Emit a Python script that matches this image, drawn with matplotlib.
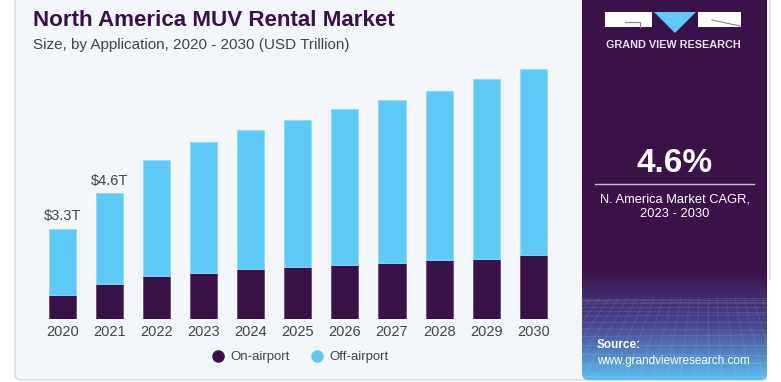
import numpy as np
import matplotlib
matplotlib.use("Agg")
import matplotlib.pyplot as plt
from matplotlib.patches import FancyBboxPatch, Rectangle, Polygon
from matplotlib.lines import Line2D

plt.rcParams['font.family'] = ['Liberation Sans', 'DejaVu Sans']

years = ["2020", "2021", "2022", "2023", "2024", "2025", "2026", "2027", "2028", "2029", "2030"]
on_airport = [0.89, 1.28, 1.59, 1.70, 1.82, 1.92, 1.99, 2.05, 2.15, 2.21, 2.33]
off_airport = [2.41, 3.32, 4.23, 4.80, 5.11, 5.37, 5.70, 5.97, 6.21, 6.57, 6.83]
bar_labels = {"2020": "$3.3T", "2021": "$4.6T"}
series_names = ["On-airport", "Off-airport"]

DARK = "#371147"
BLUE = "#5ecbf6"
BG = "#f3f7fb"
PANEL = "#3a1249"
TXT = "#444444"

W, H = 781, 382
fig = plt.figure(figsize=(W / 100, H / 100), dpi=100)
fig.patch.set_facecolor("white")

# Decoration axes in pixel coords
deco = fig.add_axes([0, 0, 1, 1])
deco.set_xlim(0, W)
deco.set_ylim(H, 0)
deco.axis("off")

card = FancyBboxPatch((15, -20), 755, 400, boxstyle="round,pad=0,rounding_size=6",
                      fc=BG, ec="#d5d9de", lw=1.0)
deco.add_patch(card)

# Right panel with gradient at bottom
px0, px1 = 582, 767
grad_h = 110
n = 256
top = np.array([0x3a, 0x12, 0x49]) / 255
mid = np.array([0x48, 0x45, 0x90]) / 255
bot = np.array([0x5a, 0xc0, 0xf0]) / 255
t = np.linspace(0, 1, n)[:, None]
cols = np.where(t < 0.5, top + (mid - top) * (t / 0.5), mid + (bot - mid) * ((t - 0.5) / 0.5))
img = np.repeat(cols[:, None, :], 2, axis=1)
deco.add_patch(Rectangle((px0, -5), px1 - px0, 380 - grad_h + 5, fc=PANEL, ec="none"))
im = deco.imshow(img, extent=[px0, px1, 380, 380 - grad_h], aspect="auto", zorder=1)
clip = FancyBboxPatch((px0, -20), px1 - px0, 400, boxstyle="round,pad=0,rounding_size=6",
                      fc="none", ec="none", transform=deco.transData)
deco.add_patch(clip)
im.set_clip_path(clip)

# faint mesh lines on the gradient
for k in range(0, 14):
    y = 300 + k * k * 0.45
    deco.add_line(Line2D([px0, px1], [y, y + (k % 3 - 1) * 1.5], color="white", alpha=0.13, lw=0.6, zorder=2))
for k in range(-12, 24):
    x_top = px0 + k * 9
    x_bot = px0 + (k - 5) * 14
    deco.add_line(Line2D([x_top, x_bot], [298, 380], color="white", alpha=0.10, lw=0.6, zorder=2))
deco.add_patch(Rectangle((px1, 280), 20, 110, fc="white", ec="none", zorder=3))
deco.add_patch(Rectangle((px0 - 20, 381), 220, 10, fc="white", ec="none", zorder=3))

# Logo
deco.add_patch(Rectangle((605, 12), 47, 15, fc="white", ec="none", zorder=4))
deco.add_patch(Polygon([(654, 12), (696, 12), (675, 33)], closed=True, fc=BLUE, ec="none", zorder=4))
deco.add_patch(Rectangle((698, 12), 43, 15, fc="white", ec="none", zorder=4))
deco.add_line(Line2D([625, 640, 640], [22, 22, 27], color="#8a7fa0", lw=0.8, zorder=5))
deco.add_line(Line2D([712, 740], [20, 26], color="#8a7fa0", lw=0.8, zorder=5))
deco.text(673, 45, "GRAND VIEW RESEARCH", color="#e6e2ea", fontsize=7.8, fontweight="bold",
          ha="center", va="center", zorder=5)

# CAGR
deco.text(675, 164, "4.6%", color="white", fontsize=24, fontweight="bold", ha="center", va="center", zorder=5)
deco.add_line(Line2D([595, 754], [184, 184], color="#c8bcd2", lw=1.0, zorder=5))
deco.text(675, 199, "N. America Market CAGR,", color="white", fontsize=9.3, ha="center", va="center", zorder=5)
deco.text(675, 214, "2023 - 2030", color="white", fontsize=9.3, ha="center", va="center", zorder=5)

deco.text(597, 345, "Source:", color="white", fontsize=8.5, fontweight="bold", ha="left", va="center", zorder=5)
deco.text(597, 361, "www.grandviewresearch.com", color="white", fontsize=8.5, ha="left", va="center", zorder=5)

# Titles
deco.text(33, 20, "North America MUV Rental Market", color="#3a0f4a", fontsize=16.1,
          fontweight="bold", ha="left", va="center")
deco.text(33, 45, "Size, by Application, 2020 - 2030 (USD Trillion)", color="#444444",
          fontsize=11, ha="left", va="center")

# Chart axes
ax_left, ax_right = 38.6, 556.9
ax_bottom, ax_top = 319.0, 60.0
ax = fig.add_axes([ax_left / W, 1 - ax_bottom / H, (ax_right - ax_left) / W, (ax_bottom - ax_top) / H])
ax.patch.set_alpha(0)
x = np.arange(len(years))
ymax = (ax_bottom - ax_top) / 27.3
ax.bar(x, on_airport, width=0.575, color=DARK, edgecolor="#6a4a7a", linewidth=0.6, label=series_names[0], zorder=3)
ax.bar(x, off_airport, bottom=on_airport, width=0.575, color=BLUE, edgecolor="#8fdcf8",
       linewidth=0.6, label=series_names[1], zorder=3)
ax.set_xlim(-0.5, len(years) - 0.5)
ax.set_ylim(0, ymax)
ax.set_xticks(x)
ax.set_xticklabels(years, fontsize=10.5, color=TXT)
ax.tick_params(axis="x", length=0, pad=4)
ax.set_yticks([])
for s in ax.spines.values():
    s.set_visible(False)

totals = np.array(on_airport) + np.array(off_airport)
for i, yr in enumerate(years):
    if yr in bar_labels:
        ax.annotate(bar_labels[yr], (i, totals[i]), xytext=(0, 4), textcoords="offset points",
                    ha="center", va="bottom", fontsize=10.5, color=TXT)

leg = ax.legend(handles=[
    Line2D([], [], marker="o", ls="none", color=DARK, markersize=8, label=series_names[0]),
    Line2D([], [], marker="o", ls="none", color=BLUE, markersize=8, label=series_names[1])],
    loc="center", bbox_to_anchor=((300 - ax_left) / (ax_right - ax_left), (ax_bottom - 357) / (ax_bottom - ax_top)),
    ncol=2, frameon=False, fontsize=9.5, handlelength=1.0, handletextpad=0.4, columnspacing=1.6, labelcolor=TXT)

fig.savefig("out.png", dpi=100)
